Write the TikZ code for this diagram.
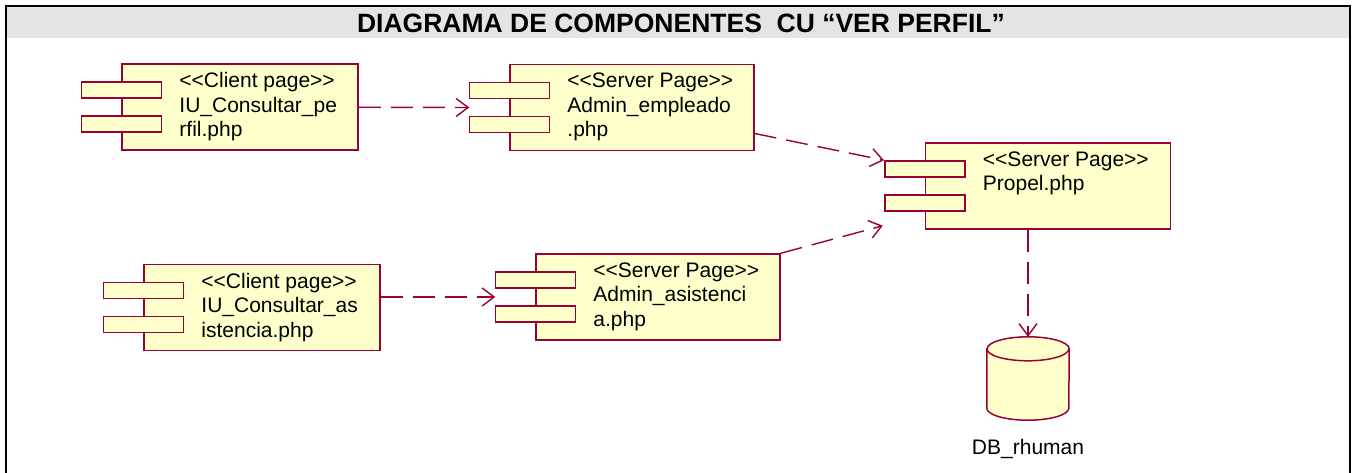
\documentclass[tikz,border=0pt]{standalone}
\usepackage{fontspec}
\setmainfont{Liberation Sans}
\usetikzlibrary{arrows.meta,positioning}

\definecolor{roseline}{RGB}{153,0,51}
\definecolor{rosefill}{RGB}{255,255,204}
\definecolor{titlegray}{RGB}{228,228,228}

\tikzset{
  compbox/.style={draw=roseline,fill=rosefill,line width=1.5pt,minimum height=86pt,inner sep=0pt},
  port/.style={draw=roseline,fill=rosefill,line width=1.5pt,minimum width=80pt,minimum height=16pt,inner sep=0pt},
  comptext/.style={anchor=north west,align=left,inner sep=0pt,font=\fontsize{21}{24.5}\selectfont},
  dep/.style={draw=roseline,line width=1.4pt,dash pattern=on 22pt off 10pt,
    -{Straight Barb[length=12pt,width=18pt,line width=1.4pt]}},
  dbbox/.style={minimum width=82pt,minimum height=83pt,inner sep=0pt},
  dbline/.style={draw=roseline,fill=rosefill,line width=1.5pt}
}

% component: name, centre, width, text
\newcommand{\umlcomponent}[4]{%
  \node[compbox,minimum width=#3] (#1) at (#2) {};
  \node[port] (#1-p1) at ([yshift=17pt]#1.west) {};
  \node[port] (#1-p2) at ([yshift=-17pt]#1.west) {};
  \coordinate (#1-in) at ([xshift=-40pt]#1.west);
  \node[comptext] (#1-t) at ([xshift=58pt,yshift=-9pt]#1.north west) {#4};
}

\begin{document}
\begin{tikzpicture}[x=1pt,y=-1pt]
  \useasboundingbox (0,0) rectangle (1356,473);
  % frame and title band
  \fill[titlegray] (7,7) rectangle (1350,38);
  \draw[line width=2.5pt] (6,473) -- (6,6) -- (1350,6) -- (1350,473);
  \node[anchor=base,font=\bfseries\fontsize{26.5}{30}\selectfont] (title) at (681,33)
    {DIAGRAMA DE COMPONENTES\ \ CU “VER PERFIL”};

  % components
  \umlcomponent{perfil}{240,107}{236pt}{<{}<Client page>{}>\\IU\_Consultar\_pe\\rfil.php}
  \umlcomponent{empleado}{632,107.5}{244pt}{<{}<Server Page>{}>\\Admin\_empleado\\.php}
  \umlcomponent{propel}{1048,186}{245pt}{<{}<Server Page>{}>\\Propel.php}
  \umlcomponent{asiscli}{262,307.5}{236pt}{<{}<Client page>{}>\\IU\_Consultar\_as\\istencia.php}
  \umlcomponent{asisserv}{658,297}{244pt}{<{}<Server Page>{}>\\Admin\_asistenci\\a.php}

  % database
  \node[dbbox] (db) at (1028,378.5) {};
  \path[dbline] ([yshift=-12pt]db.north west) -- ([yshift=12pt]db.south west)
    arc[start angle=180,end angle=360,x radius=41pt,y radius=12pt]
    -- ([yshift=-12pt]db.north east)
    arc[start angle=0,end angle=180,x radius=41pt,y radius=12pt] -- cycle;
  \draw[dbline,fill=none] ([yshift=-12pt]db.north west)
    arc[start angle=180,end angle=360,x radius=41pt,y radius=12pt];
  \node[font=\fontsize{21}{24.5}\selectfont] (dbname) at (1028,449) {DB\_rhuman};

  % dependencies
  \draw[dep] (perfil) -- (empleado-in);
  \draw[dep] (asiscli.east |- asisserv-in) -- (asisserv-in);
  \draw[dep] ([yshift=-26pt]empleado.east) -- (propel-p1.north west);
  \draw[dep] (asisserv.north east) -- ([xshift=-42pt,yshift=4pt]propel.south west);
  \draw[dep] (db.north |- propel.south) -- (db.north);
\end{tikzpicture}
\end{document}
